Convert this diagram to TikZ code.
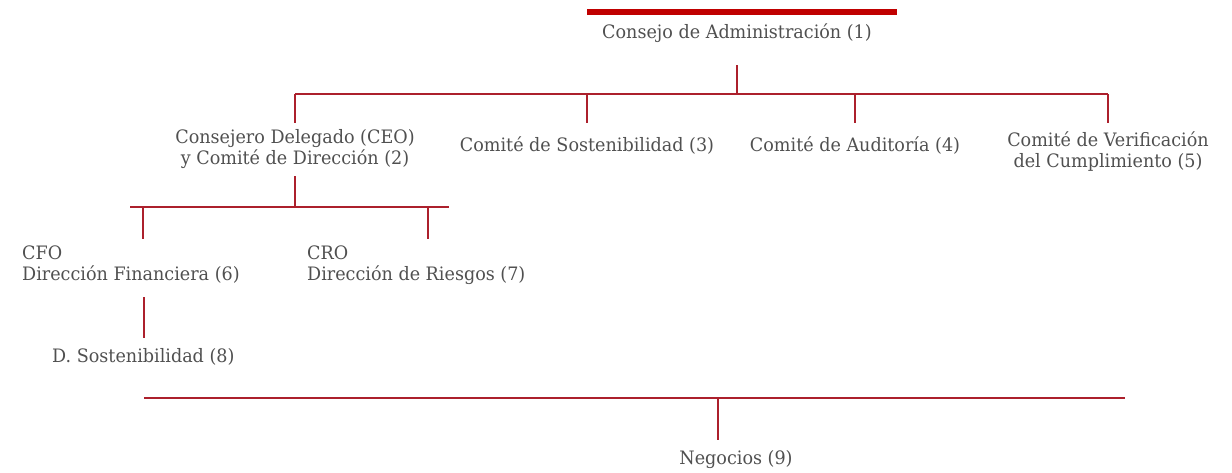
\documentclass[tikz,border=0pt]{standalone}
\usepackage{fontspec}
\setmainfont{DejaVu Serif}[FakeStretch=0.95]
\usetikzlibrary{positioning}
\definecolor{boardred}{RGB}{192, 0, 0}
\definecolor{linkred}{RGB}{172, 32, 44}
\definecolor{textgray}{RGB}{80, 80, 80}

\begin{document}
\begin{tikzpicture}[x=1pt, y=-1pt,
  unit/.style={font=\fontsize{18.5}{21}\selectfont, text=textgray, inner sep=2pt},
  link/.style={draw=linkred, line width=1.2pt}]
  \useasboundingbox (0,0) rectangle (1232,472);

  % Board
  \fill[boardred] (587,9) rectangle (897,15);
  \node[unit] (consejo) at (737,33) {Consejo de Administración (1)};

  % Level 2
  \node[unit, align=center] (ceo) at (295,149.5) {Consejero Delegado (CEO)\\y Comité de Dirección (2)};
  \node[unit] (sost) at (587,146) {Comité de Sostenibilidad (3)};
  \node[unit] (audit) at (855,146) {Comité de Auditoría (4)};
  \node[unit, align=center] (verif) at (1108,152) {Comité de Verificación\\del Cumplimiento (5)};

  % Level 3
  \node[unit, align=left, anchor=west] (cfo) at (20,265) {CFO\\Dirección Financiera (6)};
  \node[unit, align=left, anchor=west] (cro) at (305,265) {CRO\\Dirección de Riesgos (7)};
  \node[unit, anchor=west] (dsost) at (50,357) {D. Sostenibilidad (8)};
  \node[unit] (neg) at (736,460) {Negocios (9)};

  % Board bus
  \coordinate (b1) at (737,94);
  \draw[link, shorten <=32pt] (consejo.center) -- (b1);
  \draw[link] (ceo.center |- b1) -- (verif.center |- b1);
  \foreach \n in {ceo, sost, audit, verif}
    \draw[link] (\n.center |- b1) -- ++(0,29);

  % CEO bus
  \coordinate (b2) at (295,207);
  \coordinate (b2l) at (130,207);
  \coordinate (b2r) at (449,207);
  \draw[link, shorten <=26.5pt] (ceo.center) -- (b2);
  \draw[link] (b2l) -- (b2r);
  \coordinate (d6) at (143,207);
  \coordinate (d7) at (428,207);
  \draw[link] (d6) -- ++(0,32);
  \draw[link] (d7) -- ++(0,32);

  % CFO to D. Sostenibilidad
  \coordinate (v8) at (144,297);
  \draw[link] (v8) -- ++(0,41);

  % Business bus
  \coordinate (b3) at (718,398);
  \coordinate (b3l) at (144,398);
  \coordinate (b3r) at (1125,398);
  \draw[link] (b3l) -- (b3r);
  \draw[link] (b3) -- ++(0,42);
\end{tikzpicture}
\end{document}
